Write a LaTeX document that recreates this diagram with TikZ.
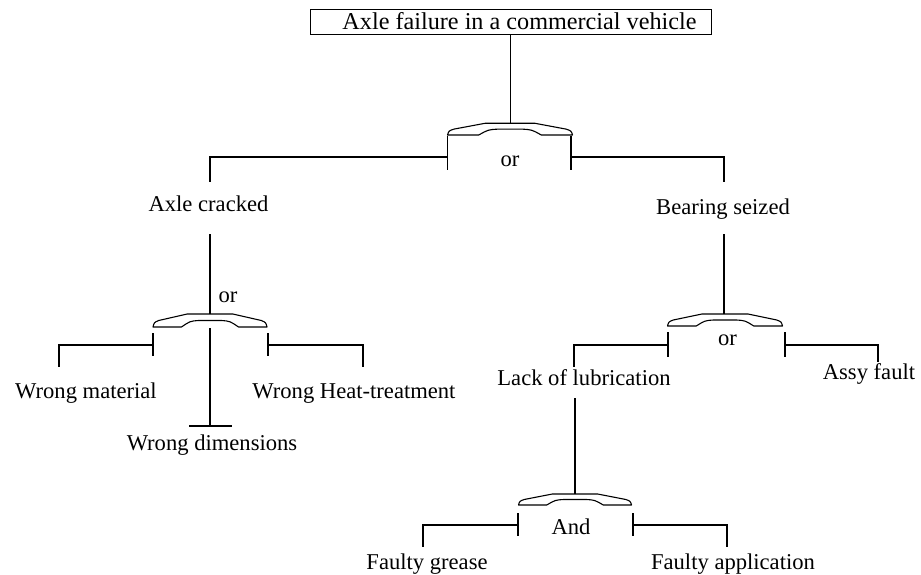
\documentclass[tikz,border=0pt]{standalone}
\usepackage{fontspec}
\setmainfont{Liberation Serif}
\newcommand\lblfont{\fontsize{22.6}{27}\selectfont}
\newcommand\topfont{\fontsize{24.2}{28}\selectfont}
\tikzset{
  conn/.style={line width=1.3pt, line cap=butt},
  gatestyle/.style={line width=1.1pt, line join=round},
  boxst/.style={draw, line width=1pt, minimum width=401pt, minimum height=25pt, inner sep=0pt},
  lbl/.style={anchor=base, inner sep=0pt, font=\lblfont},
  pics/fgate/.style={code={
    \draw[gatestyle] (-1,0) .. controls (-0.98,-0.35) .. (-0.9,-0.5) -- (-0.4,-1) -- (0.4,-1) -- (0.9,-0.5) .. controls (0.98,-0.35) .. (1,0) -- (0.5,0) .. controls (0.35,-0.45) .. (0.2,-0.5) -- (-0.2,-0.5) .. controls (-0.35,-0.45) .. (-0.5,0) -- cycle;
  }}
}
\begin{document}
\begin{tikzpicture}[x=1pt,y=-1pt]
\useasboundingbox (0,0) rectangle (921,575);
% ---------- top event
\node[boxst] (top) at (510.5,22.5) {};
\node[lbl, font=\topfont] (toptxt) at (519.5,30) {Axle failure in a commercial vehicle};
\coordinate (g1in) at (510.5,123.3);
\draw[conn] (top.south) -- (g1in);
% ---------- gate 1 (or)
\pic[xscale=62.5,yscale=11.7] (g1) at (510,135) {fgate};
\node[lbl] (or1) at (510,167) {or};
\coordinate (g1La) at (447.5,136); \coordinate (g1Lb) at (447.5,170); \coordinate (g1L) at (447.5,157);
\coordinate (g1Ra) at (571,136); \coordinate (g1Rb) at (571,170); \coordinate (g1R) at (571,157);
\draw[conn] (g1La) -- (g1Lb);
\draw[conn] (g1Ra) -- (g1Rb);
\coordinate (acIn) at (210,182);
\coordinate (bsIn) at (724,182);
\draw[conn] (g1L) -| (acIn);
\draw[conn] (g1R) -| (bsIn);
\node[lbl] (ac) at (208.5,211) {Axle cracked};
\node[lbl] (bs) at (723,214) {Bearing seized};
% ---------- gate 2 (or) under Axle cracked
\coordinate (acOut) at (210,234); \coordinate (g2in) at (210,314);
\draw[conn] (acOut) -- (g2in);
\pic[xscale=57,yscale=13] (g2) at (210,327) {fgate};
\node[lbl] (or2) at (228,302) {or};
\coordinate (g2La) at (153,333); \coordinate (g2Lb) at (153,356); \coordinate (g2L) at (153,345);
\coordinate (g2Ra) at (268,333); \coordinate (g2Rb) at (268,356); \coordinate (g2R) at (268,345);
\draw[conn] (g2La) -- (g2Lb);
\draw[conn] (g2Ra) -- (g2Rb);
\coordinate (wmIn) at (59,367);
\coordinate (whIn) at (363,367);
\draw[conn] (g2L) -| (wmIn);
\draw[conn] (g2R) -| (whIn);
\coordinate (g2M) at (210,328); \coordinate (wdIn) at (210,426);
\coordinate (wdBa) at (189,426); \coordinate (wdBb) at (232,426);
\draw[conn] (g2M) -- (wdIn);
\draw[conn] (wdBa) -- (wdBb);
\node[lbl] (wm) at (86,398) {Wrong material};
\node[lbl] (wh) at (354,398) {Wrong Heat-treatment};
\node[lbl] (wd) at (212,450) {Wrong dimensions};
% ---------- gate 3 (or) under Bearing seized
\coordinate (bsOut) at (724,234); \coordinate (g3in) at (724,314);
\draw[conn] (bsOut) -- (g3in);
\pic[xscale=57.5,yscale=12] (g3) at (725,326) {fgate};
\node[lbl] (or3) at (727.5,345) {or};
\coordinate (g3La) at (668,332); \coordinate (g3Lb) at (668,357); \coordinate (g3L) at (668,345);
\coordinate (g3Ra) at (785,332); \coordinate (g3Rb) at (785,357); \coordinate (g3R) at (785,345);
\draw[conn] (g3La) -- (g3Lb);
\draw[conn] (g3Ra) -- (g3Rb);
\coordinate (lolIn) at (574,367);
\coordinate (afIn) at (878,362);
\draw[conn] (g3L) -| (lolIn);
\draw[conn] (g3R) -| (afIn);
\node[lbl] (lol) at (584,385) {Lack of lubrication};
\node[lbl] (af) at (869,379) {Assy fault};
% ---------- gate 4 (And)
\coordinate (lolOut) at (575,398); \coordinate (g4in) at (575,494);
\draw[conn] (lolOut) -- (g4in);
\pic[xscale=56.5,yscale=11] (g4) at (575,505) {fgate};
\node[lbl] (and4) at (571,534) {And};
\coordinate (g4La) at (518,513); \coordinate (g4Lb) at (518,536); \coordinate (g4L) at (518,525);
\coordinate (g4Ra) at (633,513); \coordinate (g4Rb) at (633,536); \coordinate (g4R) at (633,525);
\draw[conn] (g4La) -- (g4Lb);
\draw[conn] (g4Ra) -- (g4Rb);
\coordinate (fgIn) at (423,547);
\coordinate (faIn) at (727,547);
\draw[conn] (g4L) -| (fgIn);
\draw[conn] (g4R) -| (faIn);
\node[lbl] (fg) at (427,569) {Faulty grease};
\node[lbl] (fa) at (733,569) {Faulty application};
\end{tikzpicture}
\end{document}
